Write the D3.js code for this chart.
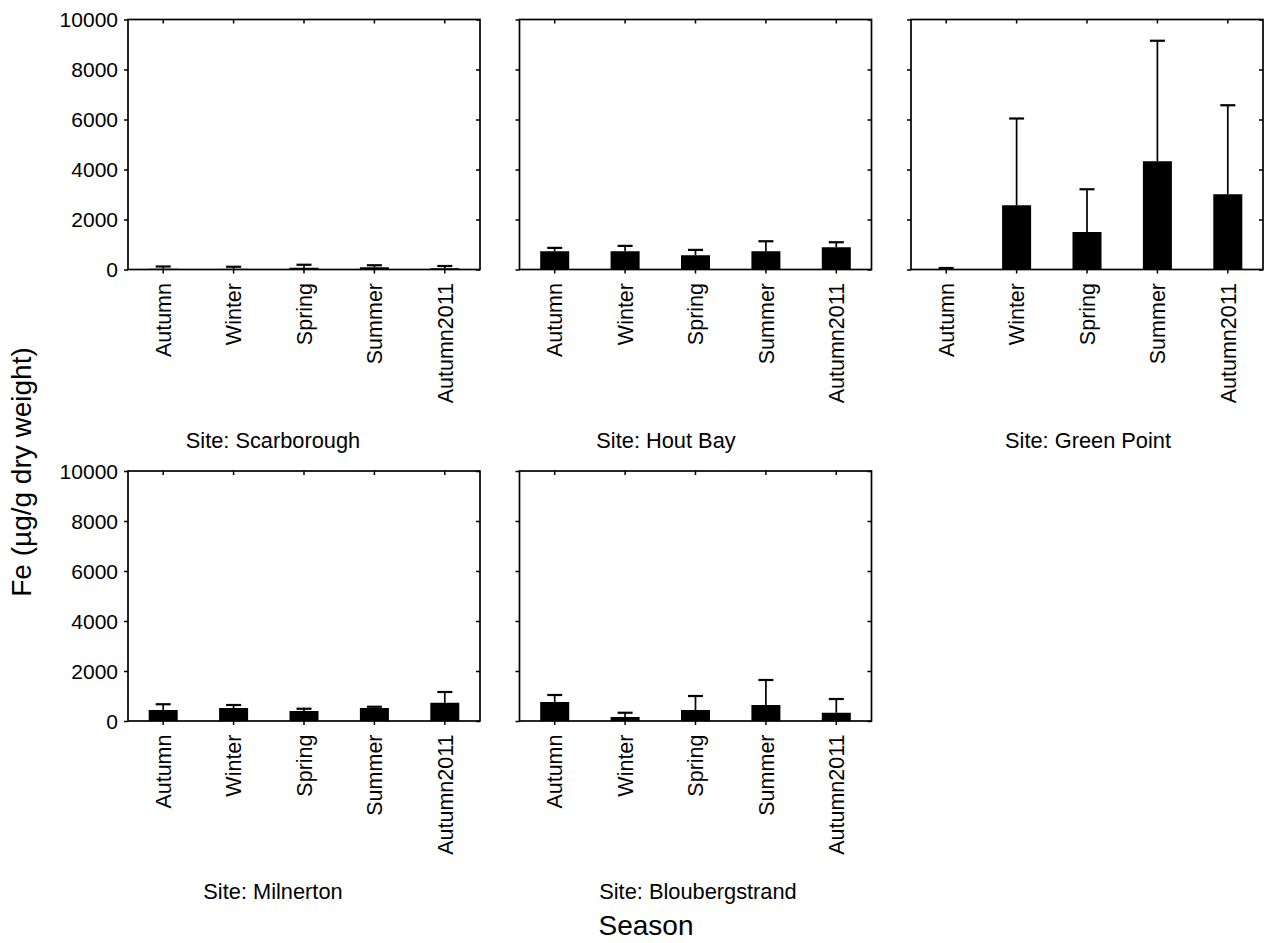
<!DOCTYPE html>
<html><head><meta charset="utf-8">
<script src="https://cdn.jsdelivr.net/npm/d3@7"></script>
<style>
body{margin:0;background:#fff;}
text{font-family:Arial,"Liberation Sans",sans-serif;fill:#000;}
</style></head>
<body>
<svg id="chart" width="1274" height="943"></svg>
<script>
// ---- data ----
const seasons = ["Autumn","Winter","Spring","Summer","Autumn2011"];
const sites = ["Scarborough","Hout Bay","Green Point","Milnerton","Bloubergstrand"];
const meanScarborough = [30, 25, 70, 90, 50];
const sdScarborough   = [90, 85, 120, 80, 90];
const meanHoutBay = [730, 730, 570, 730, 890];
const sdHoutBay   = [135, 215, 215, 400, 200];
const meanGreenPoint = [20, 2570, 1500, 4330, 3010];
const sdGreenPoint   = [40, 3470, 1710, 4820, 3560];
const meanMilnerton = [440, 520, 400, 520, 730];
const sdMilnerton   = [230, 120, 90, 50, 430];
const meanBlouberg = [760, 160, 440, 640, 330];
const sdBlouberg   = [280, 170, 560, 1000, 550];
const yTicks = [0, 2000, 4000, 6000, 8000, 10000];
const yTitle = "Fe (µg/g dry weight)";
const xTitle = "Season";

const means = [meanScarborough, meanHoutBay, meanGreenPoint, meanMilnerton, meanBlouberg];
const sds = [sdScarborough, sdHoutBay, sdGreenPoint, sdMilnerton, sdBlouberg];

// ---- layout ----
const colX = [128, 519.5, 911];
const rowY = [19.5, 471];
const pw = 352, ph = 250;
const labelCx = [273, 666, 1088, 273, 698];
const fsY = 21, fsX = 21.5, fsSite = 21.8;

const svg = d3.select("#chart");
const x = d3.scaleBand().domain(seasons).range([0, pw]).paddingInner(0.588).paddingOuter(0.294);
const y = d3.scaleLinear().domain([0, 10000]).range([ph, 0]);

sites.forEach((site, i) => {
  const col = i % 3, row = Math.floor(i / 3);
  const g = svg.append("g").attr("transform", `translate(${colX[col]},${rowY[row]})`);
  const data = seasons.map((s, k) => ({s, m: means[i][k], sd: sds[i][k]}));

  g.selectAll("rect.bar").data(data).enter().append("rect")
    .attr("x", d => x(d.s)).attr("width", x.bandwidth())
    .attr("y", d => y(d.m)).attr("height", d => y(0) - y(d.m))
    .attr("fill", "#000");
  const cx = d => x(d.s) + x.bandwidth() / 2;
  g.selectAll("line.wh").data(data).enter().append("line")
    .attr("x1", cx).attr("x2", cx)
    .attr("y1", d => y(d.m)).attr("y2", d => y(d.m + d.sd))
    .attr("stroke", "#000").attr("stroke-width", 1.7);
  g.selectAll("line.cap").data(data).enter().append("line")
    .attr("x1", d => cx(d) - 7.5).attr("x2", d => cx(d) + 7.5)
    .attr("y1", d => y(d.m + d.sd)).attr("y2", d => y(d.m + d.sd))
    .attr("stroke", "#000").attr("stroke-width", 2.2);

  const ax = (sel) => { sel.select(".domain").remove(); sel.selectAll("line").attr("stroke", "#000").attr("stroke-width", 1.5); };
  const left = g.append("g").call(d3.axisLeft(y).tickValues(yTicks).tickSize(4).tickFormat(col === 0 ? d3.format("d") : ""));
  ax(left);
  left.selectAll("text").attr("font-size", fsY).attr("x", -10).attr("dy", "0.35em");
  const right = g.append("g").attr("transform", `translate(${pw},0)`).call(d3.axisLeft(y).tickValues(yTicks).tickSize(4).tickFormat(""));
  ax(right);
  const top = g.append("g").call(d3.axisBottom(x).tickSize(4).tickFormat(""));
  ax(top);
  const bottom = g.append("g").attr("transform", `translate(0,${ph})`).call(d3.axisBottom(x).tickSize(4));
  ax(bottom);
  bottom.selectAll("text").attr("font-size", fsX)
    .attr("transform", "rotate(-90)").attr("text-anchor", "end")
    .attr("x", -13.5).attr("y", 0).attr("dy", "0.36em");
  g.append("rect").attr("width", pw).attr("height", ph)
    .attr("fill", "none").attr("stroke", "#000").attr("stroke-width", 1.7);

  svg.append("text").attr("x", labelCx[i]).attr("y", rowY[row] + ph + 178)
    .attr("text-anchor", "middle").attr("font-size", fsSite).text("Site: " + site);
});

svg.append("text").attr("transform", "translate(31,472) rotate(-90)")
  .attr("text-anchor", "middle").attr("font-size", 28).text(yTitle);
svg.append("text").attr("x", 646).attr("y", 935)
  .attr("text-anchor", "middle").attr("font-size", 28).text(xTitle);
</script>
</body></html>
